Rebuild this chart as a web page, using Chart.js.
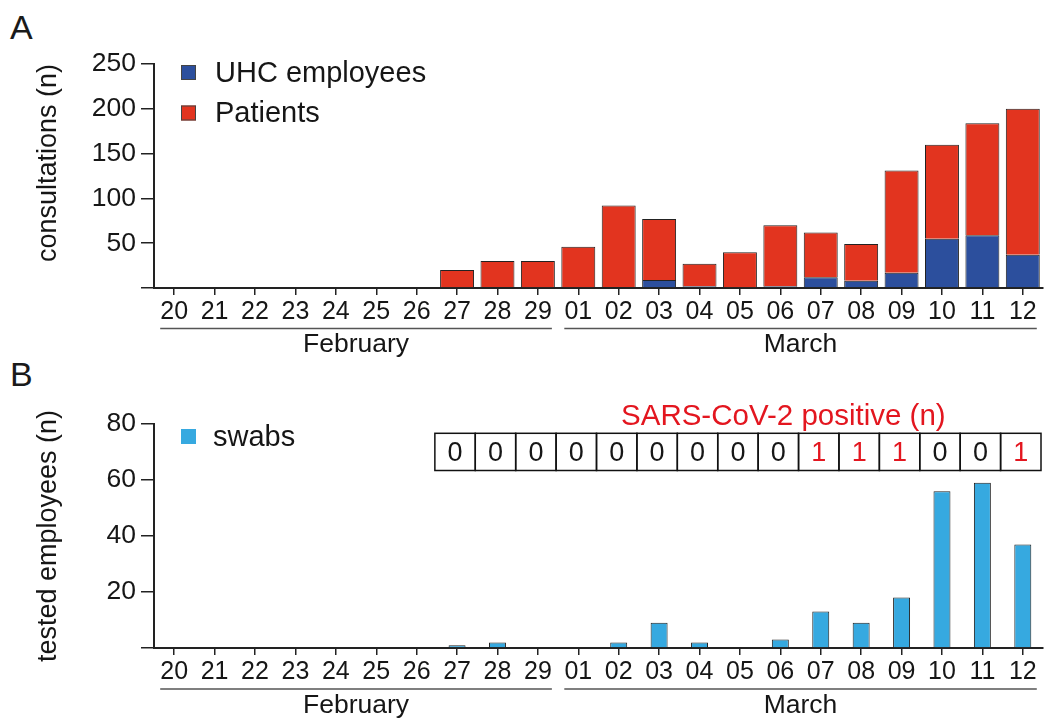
<!DOCTYPE html>
<html>
<head>
<meta charset="utf-8">
<script src="https://cdn.jsdelivr.net/npm/chart.js@4/dist/chart.umd.min.js"></script>
<style>
  body { margin: 0; background: #fff; width: 1048px; height: 725px; position: relative; overflow: hidden; font-family: "Liberation Sans", Arial, sans-serif; }
  .panel { position: absolute; left: 10px; font-size: 34px; line-height: 1; color: #1a1a1a; }
  #wrap_a { position: absolute; left: 0; top: 0; }
  #wrap_b { position: absolute; left: 0; top: 362px; }
</style>
</head>
<body>
<div class="panel" style="top:10px">A</div>
<div class="panel" style="top:357px">B</div>
<div id="wrap_a"><canvas id="chart_a" width="1048" height="362"></canvas></div>
<div id="wrap_b"><canvas id="chart_b" width="1048" height="363"></canvas></div>
<script>
const days = ["20", "21", "22", "23", "24", "25", "26", "27", "28", "29",
  "01", "02", "03", "04", "05", "06", "07", "08", "09", "10", "11", "12"];
const months = [
  { name: "February", from: 0, to: 9 },
  { name: "March", from: 10, to: 21 },
];
// consultations, stacked
const employees = [0, 0, 0, 0, 0, 0, 0, 0, 1, 0, 0, 1, 9, 2, 0, 2, 12, 8, 17, 55, 59, 37];
const patients = [0, 0, 0, 0, 0, 0, 0, 20, 29, 30, 46, 91, 68, 25, 40, 68, 50, 41, 114, 105, 125, 163];
// swabs of employees and positive results (null = no cell in the table)
const swabs = [0, 0, 0, 0, 0, 0, 0, 1, 2, 0, 0, 2, 9, 2, 0, 3, 13, 9, 18, 56, 59, 37];
const positives = [null, null, null, null, null, null, null, 0, 0, 0, 0, 0, 0, 0, 0, 0, 1, 1, 1, 0, 0, 1];
const ticksA = [50, 100, 150, 200, 250];
const ticksB = [20, 40, 60, 80];

const FONT = '"Liberation Sans", Arial, sans-serif';
const INK = "#161616";
const AXIS = "#222";
const RED = "#e3161f";

// little box legend drawn inside the plot
const boxLegend = {
  id: "boxLegend",
  afterDraw(chart, args, opts) {
    const ctx = chart.ctx;
    ctx.save();
    chart.data.datasets.forEach((ds, i) => {
      const y = opts.y + i * opts.step;
      ctx.fillStyle = ds.backgroundColor;
      ctx.fillRect(opts.x, y - 7.5, 15, 15);
      if (opts.outline) {
        ctx.strokeStyle = "#444";
        ctx.lineWidth = 1;
        ctx.strokeRect(opts.x + 0.5, y - 7, 14, 14);
      }
      ctx.fillStyle = INK;
      ctx.font = opts.size + "px " + FONT;
      ctx.textAlign = "left";
      ctx.textBaseline = "middle";
      ctx.fillText(ds.label, opts.textX, y + 1);
    });
    ctx.restore();
  },
};

// February / March brackets under the day labels
const monthBands = {
  id: "monthBands",
  afterDraw(chart, args, opts) {
    const { ctx, chartArea } = chart;
    const x = chart.scales.x;
    const y = chartArea.bottom + opts.lineGap;
    ctx.save();
    months.forEach((m) => {
      const x0 = x.getPixelForValue(m.from) - 14;
      const x1 = x.getPixelForValue(m.to) + 14;
      ctx.strokeStyle = "#555";
      ctx.lineWidth = 1.5;
      ctx.beginPath();
      ctx.moveTo(x0, y);
      ctx.lineTo(x1, y);
      ctx.stroke();
      ctx.fillStyle = INK;
      ctx.font = "26.5px " + FONT;
      ctx.textAlign = "center";
      ctx.textBaseline = "alphabetic";
      ctx.fillText(m.name, (x0 + x1) / 2, chartArea.bottom + opts.textGap);
    });
    ctx.restore();
  },
};

// SARS-CoV-2 table above the swab bars
const positiveTable = {
  id: "positiveTable",
  afterDraw(chart, args, opts) {
    const { ctx, chartArea } = chart;
    if (!opts.rows) return;
    const x = chart.scales.x;
    const step = x.getPixelForValue(1) - x.getPixelForValue(0);
    const top = chartArea.top + opts.top;
    const h = opts.height;
    ctx.save();
    ctx.strokeStyle = "#111";
    ctx.lineWidth = 1.5;
    ctx.font = "27px " + FONT;
    ctx.textAlign = "center";
    ctx.textBaseline = "middle";
    opts.rows.forEach((v, i) => {
      if (v === null) return;
      const cx = x.getPixelForValue(i) + opts.shift;
      ctx.strokeRect(cx - step / 2, top, step, h);
      ctx.fillStyle = v > 0 ? RED : INK;
      ctx.fillText(String(v), cx, top + h / 2 + 2);
    });
    ctx.fillStyle = RED;
    ctx.font = "29.5px " + FONT;
    ctx.fillText(opts.title, x.getPixelForValue(15) + 3, chartArea.top + opts.titleY);
    ctx.restore();
  },
};

function axisX(height) {
  return {
    stacked: true,
    grid: { display: true, drawOnChartArea: false, drawTicks: true, tickLength: 7, color: AXIS, lineWidth: 1.5, offset: false },
    border: { display: true, color: AXIS, width: 2 },
    ticks: { color: INK, font: { family: FONT, size: 25 }, padding: 2, maxRotation: 0, autoSkip: false },
    afterFit: (s) => { s.height = height; },
  };
}

function axisY(max, values, title, align) {
  return {
    stacked: true,
    min: 0,
    max: max,
    afterBuildTicks: (s) => { s.ticks = [0].concat(values).map((v) => ({ value: v })); },
    ticks: { color: INK, font: { family: FONT, size: 26.5 }, padding: 5, callback: (v) => (v === 0 ? "" : v) },
    grid: { display: true, drawOnChartArea: false, drawTicks: true, tickLength: 13, color: AXIS, lineWidth: 1.5 },
    border: { display: true, color: AXIS, width: 2 },
    title: { display: true, text: title, align: align, color: INK, font: { family: FONT, size: 27, lineHeight: 1 }, padding: { top: 35, bottom: 0 } },
    afterFit: (s) => { s.width = 154; },
  };
}

new Chart(document.getElementById("chart_a"), {
  type: "bar",
  data: {
    labels: days,
    datasets: [
      { label: "UHC employees", data: employees, backgroundColor: "#2c4f9d", borderColor: "#222", borderWidth: 1, barPercentage: 0.84, categoryPercentage: 1 },
      { label: "Patients", data: patients, backgroundColor: "#e2341f", borderColor: "#222", borderWidth: 1, barPercentage: 0.84, categoryPercentage: 1 },
    ],
  },
  options: {
    responsive: false,
    animation: false,
    layout: { padding: { top: 64, right: 5, left: 0, bottom: 0 } },
    plugins: {
      legend: { display: false },
      tooltip: { enabled: false },
      boxLegend: { x: 181, y: 72.5, step: 40.5, textX: 215, size: 29, outline: true },
      monthBands: { lineGap: 40.5, textGap: 64 },
    },
    scales: {
      x: axisX(74),
      y: axisY(250, ticksA, "consultations (n)", "end"),
    },
  },
  plugins: [boxLegend, monthBands],
});

new Chart(document.getElementById("chart_b"), {
  type: "bar",
  data: {
    labels: days,
    datasets: [
      { label: "swabs", data: swabs, backgroundColor: "#36a9e0", borderColor: "#222", borderWidth: 1, barPercentage: 0.42, categoryPercentage: 1 },
    ],
  },
  options: {
    responsive: false,
    animation: false,
    layout: { padding: { top: 62, right: 5, left: 0, bottom: 0 } },
    plugins: {
      legend: { display: false },
      tooltip: { enabled: false },
      boxLegend: { x: 181, y: 74.5, step: 40, textX: 213, size: 29, outline: false },
      monthBands: { lineGap: 41, textGap: 65 },
      positiveTable: { rows: positives, top: 9.3, height: 37.2, shift: -2, title: "SARS-CoV-2 positive (n)", titleY: -7 },
    },
    scales: {
      x: axisX(77),
      y: axisY(80, ticksB, "tested employees (n)", "center"),
    },
  },
  plugins: [boxLegend, monthBands, positiveTable],
});
</script>
</body>
</html>
